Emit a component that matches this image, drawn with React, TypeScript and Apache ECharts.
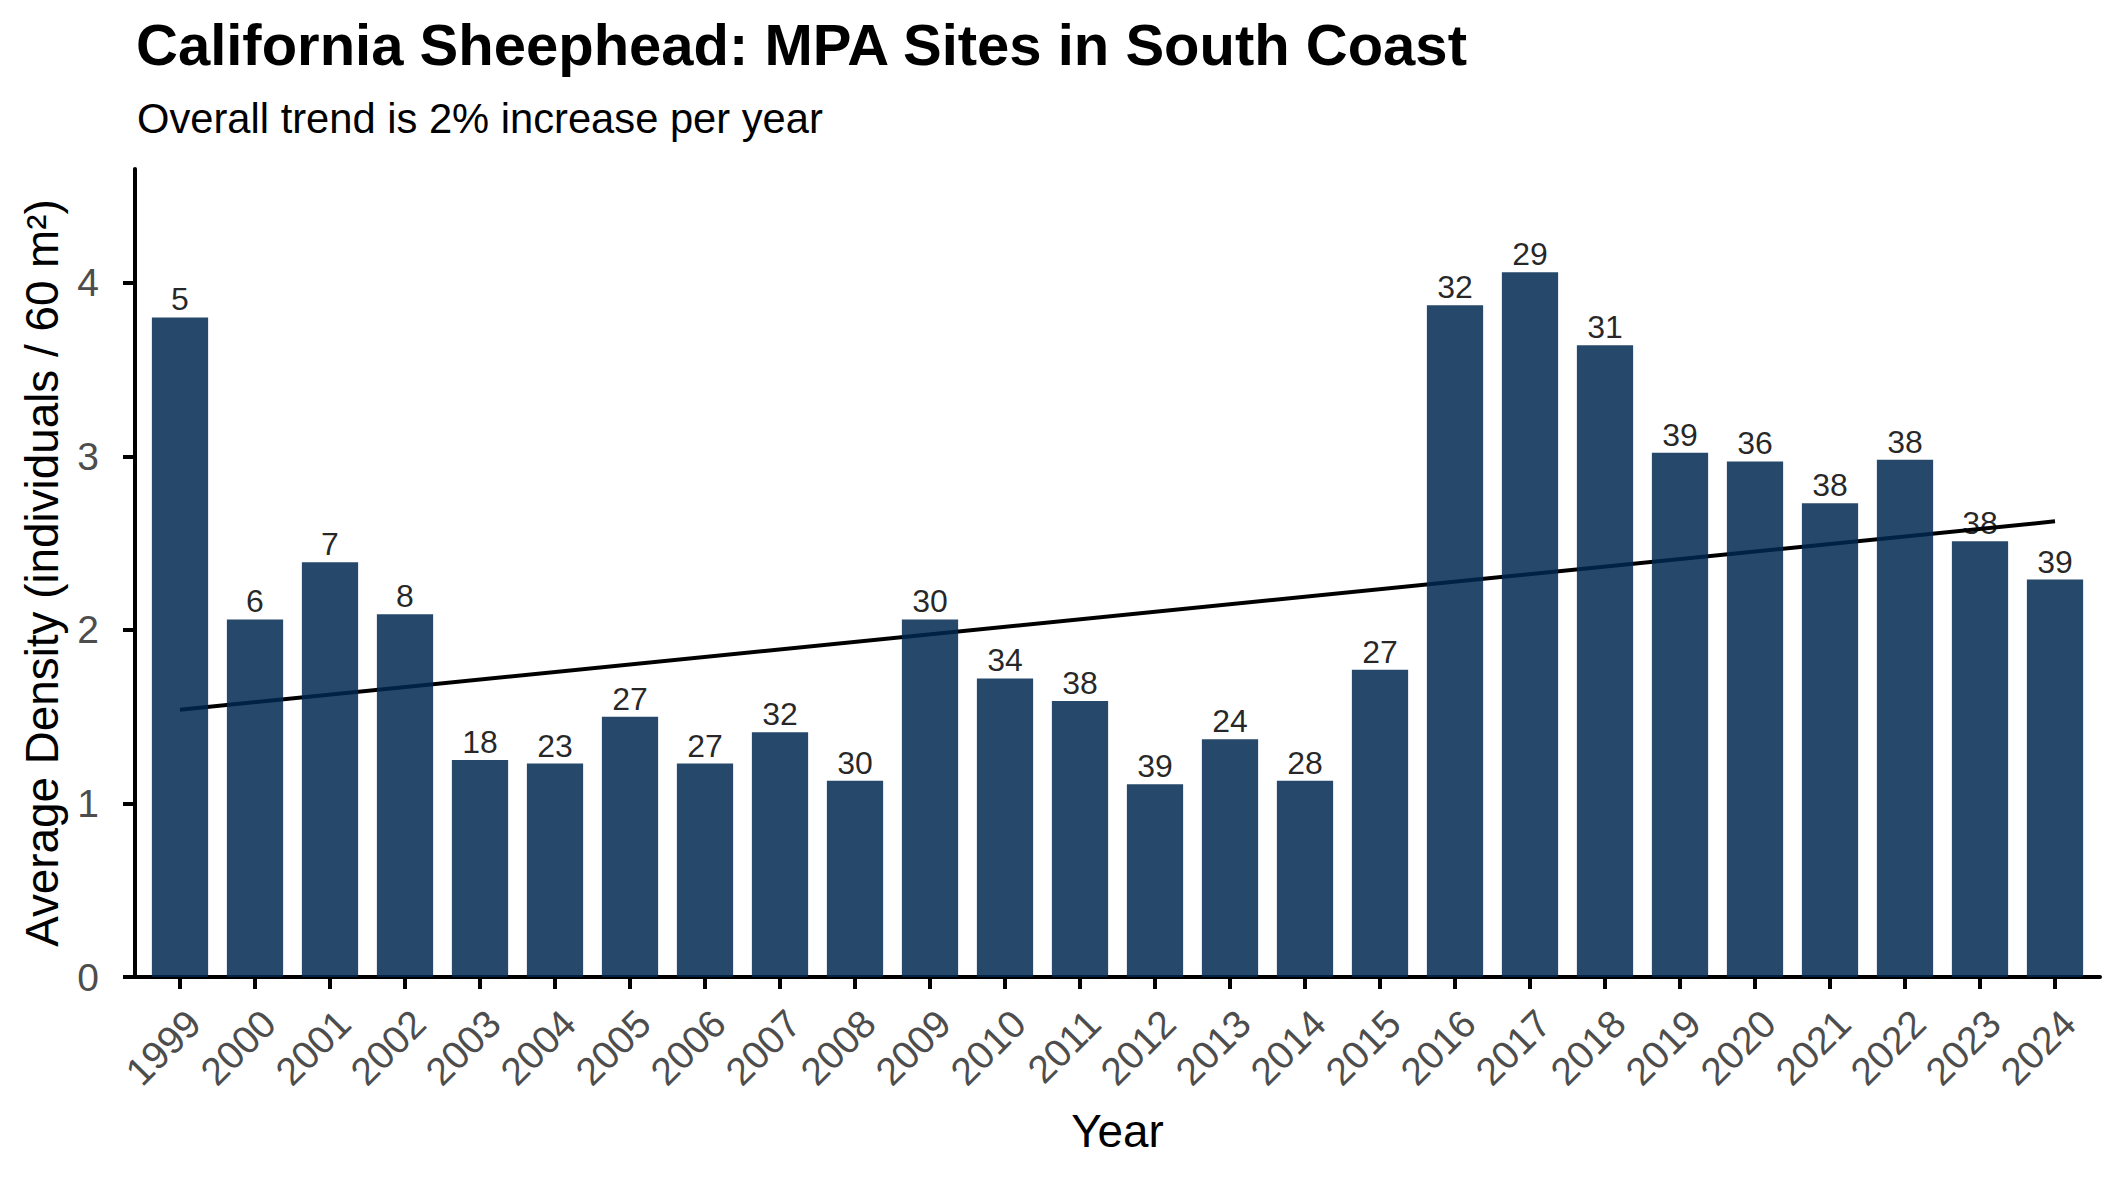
import React, { useEffect, useRef } from "react";
import * as echarts from "echarts";

// Survey years and average sheephead density per 60 m² transect
const years = [
  "1999", "2000", "2001", "2002", "2003", "2004", "2005", "2006", "2007",
  "2008", "2009", "2010", "2011", "2012", "2013", "2014", "2015", "2016",
  "2017", "2018", "2019", "2020", "2021", "2022", "2023", "2024",
];
const density = [
  3.8, 2.06, 2.39, 2.09, 1.25, 1.23, 1.5, 1.23, 1.41, 1.13, 2.06, 1.72, 1.59,
  1.11, 1.37, 1.13, 1.77, 3.87, 4.06, 3.64, 3.02, 2.97, 2.73, 2.98, 2.51, 2.29,
];
// Number of MPA sites surveyed each year
const siteCounts = [
  5, 6, 7, 8, 18, 23, 27, 27, 32, 30, 30, 34, 38, 39, 24, 28, 27, 32, 29, 31,
  39, 36, 38, 38, 38, 39,
];
// Fitted trend, first and last year
const trendStart = 1.54;
const trendEnd = 2.625;
const yTicks = [0, 1, 2, 3, 4];

const FONT = "'Liberation Sans', Arial, Helvetica, sans-serif";

export default function App() {
  const ref = useRef<HTMLDivElement>(null);

  useEffect(() => {
    document.body.style.margin = "0";
    if (!ref.current) return;
    const chart = echarts.init(ref.current, undefined, { renderer: "svg" });

    const positions = years.map((_, i) => i + 1);
    const barData = density.map((v, i) => [positions[i], v]);
    const trendData = [
      [positions[0], trendStart],
      [positions[positions.length - 1], trendEnd],
    ];

    chart.setOption({
      animation: false,
      backgroundColor: "#ffffff",
      title: [
        {
          text: "California Sheephead: MPA Sites in South Coast",
          left: 136,
          top: 15,
          padding: 0,
          textStyle: {
            fontFamily: FONT,
            fontSize: 58,
            fontWeight: "bold",
            color: "#000000",
          },
        },
        {
          text: "Overall trend is 2% increase per year",
          left: 137,
          top: 97,
          padding: 0,
          textStyle: {
            fontFamily: FONT,
            fontSize: 41.7,
            fontWeight: "normal",
            color: "#000000",
          },
        },
      ],
      grid: {
        left: 135,
        right: 25,
        top: 169,
        bottom: 204,
        containLabel: false,
      },
      xAxis: {
        type: "value",
        min: 0.4,
        max: 26.6,
        name: "Year",
        nameLocation: "middle",
        nameGap: 131,
        nameTextStyle: { fontFamily: FONT, fontSize: 45.8, color: "#000000" },
        splitLine: { show: false },
        axisLine: { show: true, lineStyle: { color: "#000000", width: 4 } },
        axisTick: {
          show: true,
          length: 12,
          customValues: positions,
          lineStyle: { color: "#000000", width: 4 },
        },
        axisLabel: {
          customValues: positions,
          formatter: (v: number) => years[Math.round(v) - 1] ?? "",
          rotate: 45,
          align: "right",
          verticalAlign: "top",
          margin: 26,
          fontFamily: FONT,
          fontSize: 39,
          color: "#4D4D4D",
        },
      },
      yAxis: {
        type: "value",
        min: 0,
        max: 4.655,
        name: "Average Density (individuals / 60 m²)",
        nameLocation: "middle",
        nameGap: 70,
        nameTextStyle: { fontFamily: FONT, fontSize: 45.8, color: "#000000" },
        splitLine: { show: false },
        axisLine: { show: true, lineStyle: { color: "#000000", width: 4 } },
        axisTick: {
          show: true,
          length: 12,
          customValues: yTicks,
          lineStyle: { color: "#000000", width: 4 },
        },
        axisLabel: {
          customValues: yTicks,
          margin: 36,
          fontFamily: FONT,
          fontSize: 39,
          color: "#4D4D4D",
        },
      },
      series: [
        {
          type: "line",
          data: trendData,
          z: 1,
          symbol: "none",
          silent: true,
          lineStyle: { color: "#000000", width: 4 },
        },
        {
          type: "bar",
          data: barData,
          z: 2,
          barWidth: "75%",
          itemStyle: { color: "rgb(0, 40, 80)", opacity: 0.85 },
          label: {
            show: true,
            position: "top",
            distance: 2,
            formatter: (p: any) => String(siteCounts[p.dataIndex]),
            fontFamily: FONT,
            fontSize: 32,
            color: "#000000",
          },
        },
      ],
    });

    return () => chart.dispose();
  }, []);

  return (
    <div
      ref={ref}
      style={{ position: "fixed", left: 0, top: 0, width: 2125, height: 1181 }}
    />
  );
}
